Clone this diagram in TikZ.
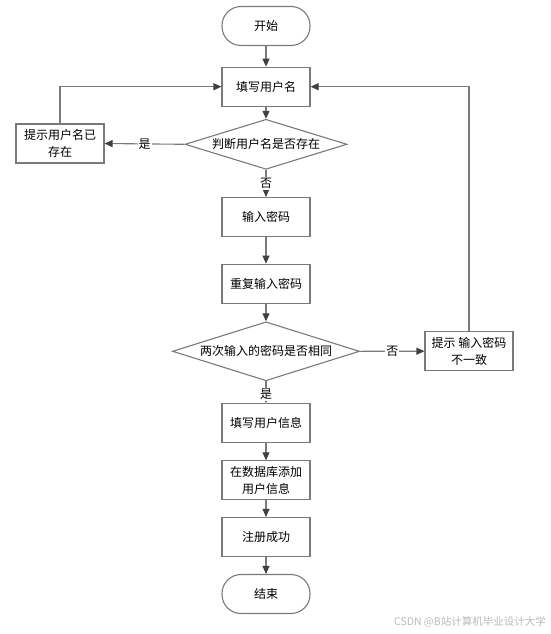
\documentclass[tikz,border=0pt]{standalone}
\usepackage{fontspec}
\newfontfamily\cjk{Noto Sans CJK SC}
\usepackage{tikz}
\usetikzlibrary{arrows.meta,positioning,shapes.geometric}
\definecolor{lineclr}{HTML}{7A7A7A}
\definecolor{tipclr}{HTML}{404040}

\begin{document}
\begin{tikzpicture}[x=1pt,y=-1pt,
  box/.style={draw=lineclr,line width=1.1pt,minimum width=88pt,minimum height=39pt,
              inner sep=2pt,align=center,font=\cjk\fontsize{12}{16.5}\selectfont},
  terminal/.style={box,rounded corners=19pt},
  decision/.style={diamond,draw=lineclr,line width=1.1pt,inner sep=0pt,aspect=3.2,
                   font=\cjk\fontsize{12}{14}\selectfont},
  flow/.style={draw=lineclr,line width=1.1pt,-{Triangle[length=8pt,width=7pt,color=tipclr]}},
  tag/.style={fill=white,inner sep=1pt,font=\cjk\fontsize{12}{14}\selectfont}]

\useasboundingbox (0,0) rectangle (550,634);

\node[terminal] (start) at (266, 26)   {开始};
\node[box]      (name)  at (266, 86.7) {填写用户名};
\node[decision,minimum width=162pt,minimum height=50pt] (chk) at (266,144.3) {判断用户名是否存在};
\node[box]      (exist) at (60, 143.5) {提示用户名已\\存在};
\node[box]      (pwd)   at (266,217)   {输入密码};
\node[box]      (rep)   at (266,283.7) {重复输入密码};
\node[decision,minimum width=187pt,minimum height=59pt] (same) at (266,351.3) {两次输入的密码是否相同};
\node[box]      (diff)  at (469,351.2) {提示 输入密码\\不一致};
\node[box]      (info)  at (266,423)   {填写用户信息};
\node[box]      (db)    at (266,480.3) {在数据库添加\\用户信息};
\node[box]      (ok)    at (266,537)   {注册成功};
\node[terminal] (stop)  at (266,594)   {结束};

\node[anchor=east,text=gray!55,inner sep=0pt,font=\cjk\fontsize{10.5}{12}\selectfont]
  (mark) at (546,622) {CSDN @B站计算机毕业设计大学};

\foreach \a/\b in {start/name,name/chk,pwd/rep,rep/same,info/db,db/ok,ok/stop}
  \draw[flow] (\a) -- (\b);

\draw[flow] (chk.west) -- node[tag] {是} (exist.east);
\draw[flow] (chk.south) -- node[tag] {否} (pwd.north);
\draw[flow] (exist.north) |- (name.west);

\draw[flow] (same.east) -- node[tag] {否} (diff.west);
\draw[flow] (same.south) -- node[tag,pos=0.6] {是} (info.north);
\draw[flow] (diff.north) |- (name.east);
\end{tikzpicture}
\end{document}
